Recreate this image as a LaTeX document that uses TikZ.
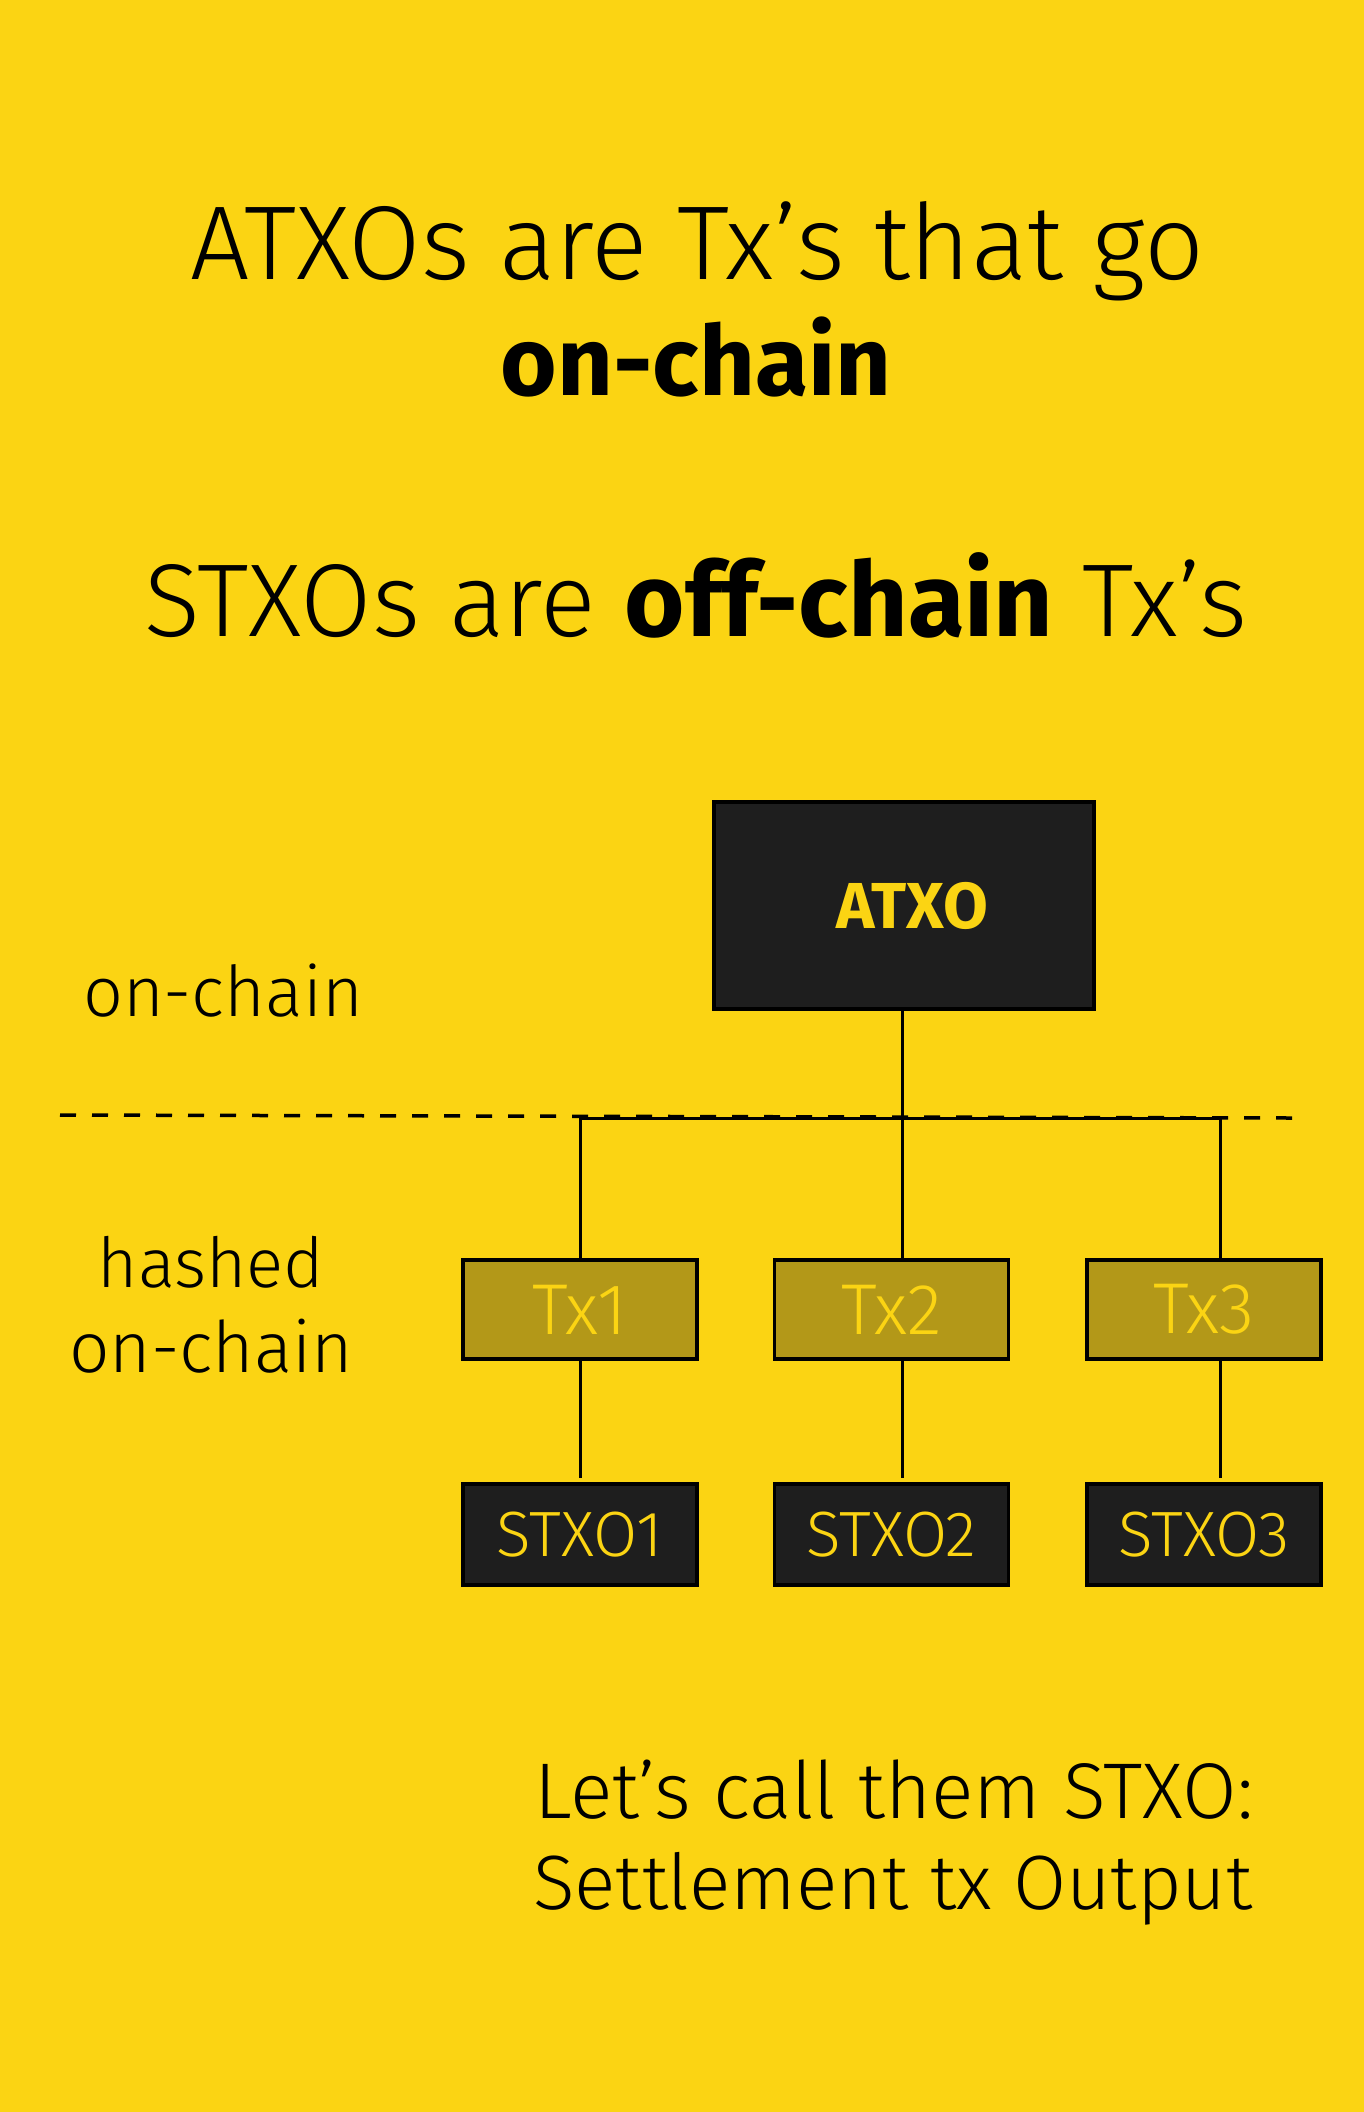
\documentclass[tikz,border=0pt]{standalone}
\usepackage{fontspec}
\IfFontExistsTF{Fira Sans Light}{\setmainfont{Fira Sans Light}[BoldFont={Fira Sans Bold}]}{%
  \IfFontExistsTF{FiraSans-Light.otf}{\setmainfont{FiraSans-Light.otf}[BoldFont=FiraSans-Bold.otf]}{\setmainfont{Fira Sans}}}
\definecolor{bgyellow}{HTML}{FBD413}
\definecolor{boxdark}{HTML}{1E1E1E}
\definecolor{olive}{HTML}{B39818}
\tikzset{
  darkbox/.style={draw=black, line width=4pt, fill=boxdark, text=bgyellow, inner sep=0pt},
  txbox/.style={draw=black, line width=3.5pt, fill=olive, text=bgyellow, inner sep=0pt, minimum width=234pt, minimum height=99pt, font=\fontsize{72}{80}\selectfont},
  stxobox/.style={darkbox, line width=3.5pt, minimum width=234pt, minimum height=101pt, font=\fontsize{64}{70}\selectfont},
  conn/.style={draw=black, line width=3pt},
  label/.style={anchor=base, text=black, inner sep=0pt}
}
\begin{document}
\begin{tikzpicture}[x=1pt,y=-1pt]
\fill[bgyellow] (0,0) rectangle (1364,2112);
\useasboundingbox (0,0) rectangle (1364,2112);

% titles
\node[label, font=\fontsize{105}{112}\selectfont] (t1) at (697,279) {ATXOs are Tx’s that go};
\node[label, font=\fontsize{97}{105}\selectfont\bfseries] (t2) at (696,395) {on-chain};
\node[label, font=\fontsize{103.5}{110}\selectfont] (t3) at (696,636) {STXOs are \textbf{off-chain} Tx’s};

% side labels
\node[label, font=\fontsize{70}{76}\selectfont] (l1) at (223,1016) {on-chain};
\node[label, font=\fontsize{69}{76}\selectfont] (l2) at (211,1287) {hashed};
\node[label, font=\fontsize{71}{76}\selectfont] (l3) at (211,1372) {on-chain};

% dashed separator
\coordinate (d1) at (60,1115);
\coordinate (d2) at (1292,1118);
\draw[black, line width=3.5pt, dash pattern=on 16pt off 16pt] (d1) -- (d2);

% boxes
\node[darkbox, minimum width=380pt, minimum height=207pt, font=\fontsize{65}{70}\selectfont\bfseries] (atxo) at (904,905.5) {\hspace*{16pt}ATXO};
\node[txbox] (tx1) at (580,1309.5) {Tx1};
\node[txbox] (tx2) at (891.5,1309.5) {Tx2};
\node[txbox] (tx3) at (1204,1309.5) {Tx3};
\node[stxobox] (s1) at (580,1534.5) {STXO1};
\node[stxobox] (s2) at (891.5,1534.5) {STXO2};
\node[stxobox] (s3) at (1204,1534.5) {STXO3};

% connectors
\coordinate (c1) at (580,1118);
\coordinate (c2) at (902,1118);
\coordinate (c3) at (1220,1118);
\draw[conn] (c2 |- atxo.south) -- (c2 |- tx2.north);
\draw[conn] (c1 |- tx1.north) -- (c1) -- (c3) -- (c3 |- tx3.north);
\draw[conn] (c1 |- tx1.south) -- ([yshift=4pt]c1 |- s1.north);
\draw[conn] (c2 |- tx2.south) -- ([yshift=4pt]c2 |- s2.north);
\draw[conn] (c3 |- tx3.south) -- ([yshift=4pt]c3 |- s3.north);

% bottom text
\node[label, font=\fontsize{79}{86}\selectfont] (b1) at (894,1818) {Let’s call them STXO:};
\node[label, font=\fontsize{77}{84}\selectfont] (b2) at (893,1909) {Settlement tx Output};
\end{tikzpicture}
\end{document}
